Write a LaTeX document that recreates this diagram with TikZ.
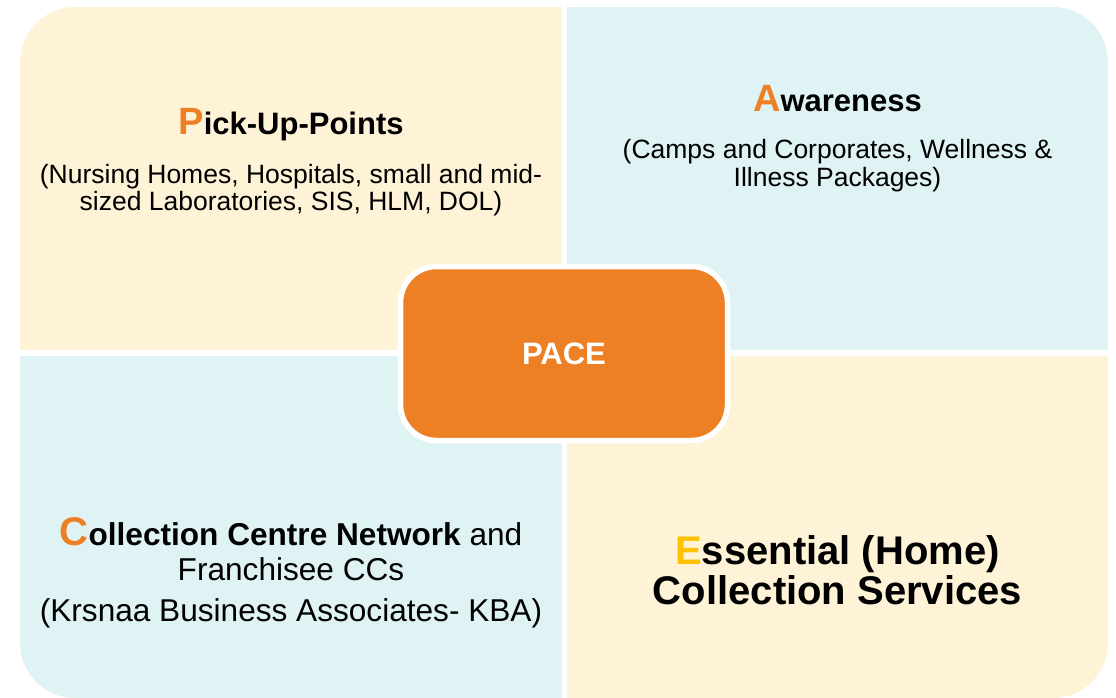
\documentclass[tikz,border=0pt]{standalone}
\usepackage{fontspec}
\setmainfont{Liberation Sans}
\usetikzlibrary{positioning}
\definecolor{cream}{HTML}{FEF2D7}
\definecolor{paleblue}{HTML}{DFF3F5}
\definecolor{paceorange}{HTML}{ED8024}
\definecolor{gold}{HTML}{FFC000}

\begin{document}
\begin{tikzpicture}[x=1pt, y=-1pt,
    head/.style={anchor=base, inner sep=0pt, font=\fontsize{31}{31}\selectfont\bfseries},
    sub/.style={anchor=base, inner sep=0pt, font=\fontsize{26.5}{27}\selectfont},
    big/.style={anchor=base, inner sep=0pt, font=\fontsize{31.6}{32}\selectfont},
    huge/.style={anchor=base, inner sep=0pt, font=\fontsize{40}{40}\selectfont\bfseries},
    pacebox/.style={fill=paceorange, draw=white, line width=5.5pt, rounded corners=36pt,
        minimum width=327pt, minimum height=174pt, text=white,
        font=\fontsize{31}{31}\selectfont\bfseries}]
    \useasboundingbox (0,0) rectangle (1116,697);
    % four quadrants, outer corners rounded
    \begin{scope}
        \clip[rounded corners=55pt] (20,7) rectangle (1108,698);
        \fill[cream] (20,7) rectangle (562,350);
        \fill[paleblue] (567,7) rectangle (1108,350);
        \fill[paleblue] (20,356) rectangle (562,698);
        \fill[cream] (567,356) rectangle (1108,698);
    \end{scope}

    \node[head] (pick) at (291,134) {{\color{paceorange}\fontsize{38}{38}\selectfont P}ick-Up-Points};
    \node[sub] (pickA) at (291,183) {(Nursing Homes, Hospitals, small and mid-};
    \node[sub] (pickB) at (291,210) {sized Laboratories, SIS, HLM, DOL)};

    \node[head] (aware) at (837.5,111) {{\color{paceorange}\fontsize{38}{38}\selectfont A}wareness};
    \node[sub] (awareA) at (837.5,158) {(Camps and Corporates, Wellness \&};
    \node[sub] (awareB) at (837.5,186) {Illness Packages)};

    \node[big] (coll) at (291,545) {{\color{paceorange}\bfseries\fontsize{40}{40}\selectfont C}{\bfseries ollection Centre Network} and};
    \node[big] (collA) at (291,580) {Franchisee CCs};
    \node[big] (collB) at (291,621) {(Krsnaa Business Associates- KBA)};

    \node[huge] (ess) at (837.5,564) {{\color{gold}E}ssential (Home)};
    \node[huge] (essA) at (837.5,604) {Collection Services};

    \node[pacebox] (pace) at (564,353.5) {PACE};
\end{tikzpicture}
\end{document}
